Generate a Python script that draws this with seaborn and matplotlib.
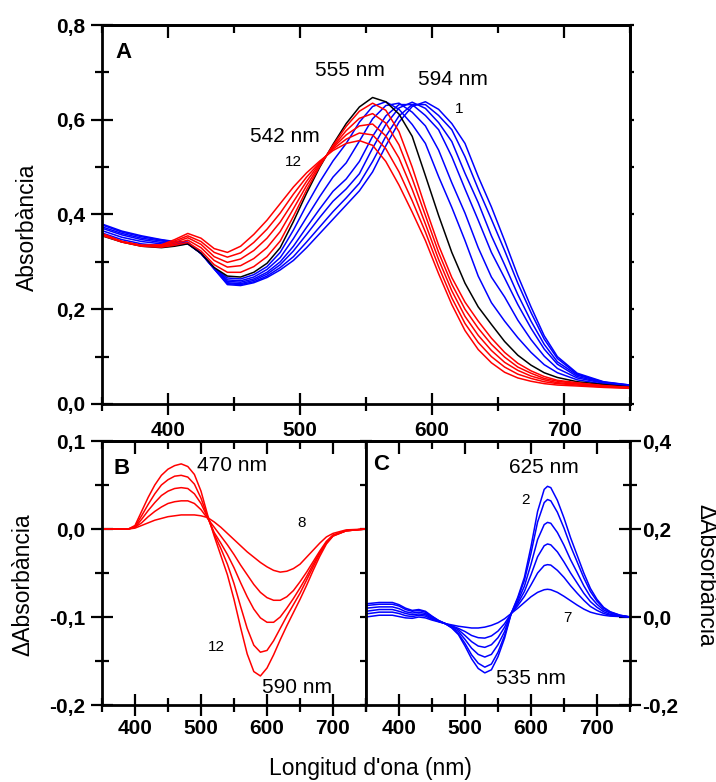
import matplotlib
matplotlib.use("Agg")
import matplotlib.pyplot as plt
import pandas as pd
import seaborn as sns
from matplotlib.ticker import FuncFormatter, MultipleLocator, NullFormatter

# ---- panel A: absorbance spectra 1..12 ----
WL_A = [350, 365, 380, 395, 405, 415, 425, 435, 445, 455, 465, 475, 485, 495,
        505, 515, 525, 535, 545, 555, 565, 575, 585, 595, 605, 615, 625, 635,
        645, 655, 665, 675, 685, 695, 710, 730, 750]
A1 = [.380, .365, .355, .347, .343, .342, .318, .285, .252, .250, .256, .267, .283, .303,
      .330, .360, .390, .420, .450, .490, .545, .595, .628, .638, .622, .592, .550, .480,
      .416, .345, .271, .205, .144, .100, .065, .047, .040]
A2 = [.378, .363, .353, .346, .342, .340, .318, .285, .254, .252, .258, .270, .288, .311,
      .342, .374, .406, .435, .466, .512, .565, .608, .632, .632, .609, .579, .522, .454,
      .390, .324, .255, .193, .137, .096, .063, .046, .040]
A3 = [.374, .360, .350, .344, .341, .340, .318, .286, .256, .254, .261, .274, .294, .323,
      .358, .394, .428, .454, .486, .540, .590, .625, .637, .624, .594, .554, .487, .425,
      .355, .294, .231, .175, .126, .089, .061, .046, .039]
A4 = [.371, .357, .347, .341, .339, .339, .318, .286, .259, .257, .264, .278, .300, .333,
      .373, .412, .449, .475, .512, .565, .608, .632, .632, .609, .579, .522, .454, .388,
      .320, .266, .210, .160, .116, .084, .058, .045, .039]
A5 = [.366, .352, .343, .338, .337, .339, .318, .287, .262, .260, .268, .284, .309, .349,
      .394, .438, .479, .509, .555, .602, .630, .635, .616, .587, .536, .467, .403, .330,
      .268, .226, .177, .136, .101, .075, .055, .044, .038]
A6 = [.361, .347, .338, .334, .335, .338, .318, .287, .266, .264, .273, .290, .320, .367,
      .420, .469, .513, .550, .595, .628, .638, .622, .590, .550, .480, .415, .345, .270,
      .214, .175, .140, .109, .083, .066, .051, .042, .037]
A7 = [.355, .342, .333, .330, .333, .338, .318, .288, .270, .268, .278, .297, .330, .385,
      .445, .500, .548, .592, .627, .647, .638, .612, .565, .482, .398, .320, .255, .205,
      .168, .132, .103, .082, .066, .056, .047, .041, .036]
A8 = [.356, .342, .333, .331, .335, .341, .323, .294, .278, .278, .290, .311, .344, .396,
      .452, .502, .546, .586, .618, .635, .620, .575, .500, .415, .335, .267, .215, .175,
      .139, .109, .086, .070, .058, .050, .045, .039, .035]
A9 = [.357, .342, .334, .332, .338, .346, .330, .303, .289, .292, .307, .330, .364, .412,
      .461, .505, .543, .577, .603, .613, .593, .547, .476, .398, .320, .253, .200, .160,
      .126, .099, .078, .065, .054, .048, .043, .038, .035]
A10 = [.358, .343, .334, .334, .341, .351, .337, .311, .299, .306, .324, .350, .384, .427,
       .470, .508, .541, .568, .587, .591, .566, .519, .453, .380, .305, .239, .185, .145,
       .113, .088, .071, .059, .051, .045, .042, .037, .034]
A11 = [.359, .343, .335, .335, .344, .355, .343, .320, .310, .319, .341, .369, .403, .443,
       .479, .510, .538, .559, .572, .568, .539, .490, .429, .363, .290, .224, .170, .130,
       .100, .078, .063, .054, .047, .043, .040, .036, .034]
A12 = [.360, .343, .335, .336, .347, .360, .350, .328, .320, .333, .358, .388, .423, .458,
       .488, .513, .535, .550, .556, .546, .512, .462, .405, .345, .275, .210, .155, .115,
       .087, .067, .055, .048, .043, .040, .038, .035, .033]

# ---- panel B: difference spectra 8..12 ----
WL_B = [350, 370, 390, 400, 410, 420, 430, 440, 450, 460, 470, 480, 490, 500, 510, 520,
        530, 540, 550, 560, 570, 580, 590, 600, 610, 620, 630, 640, 650, 660, 670, 680,
        690, 700, 720, 750]
B8 = [0, 0, 0, .001, .004, .007, .010, .012, .014, .015, .016, .016, .016, .015, .013, .008,
      .002, -.005, -.012, -.019, -.026, -.032, -.038, -.043, -.047, -.049, -.048, -.045,
      -.040, -.032, -.024, -.016, -.009, -.005, -.001, 0]
B9 = [0, 0, 0, .002, .007, .014, .020, .025, .029, .031, .032, .032, .029, .022, .012, .002,
      -.008, -.018, -.029, -.041, -.052, -.063, -.072, -.078, -.081, -.081, -.077, -.070,
      -.060, -.049, -.037, -.025, -.014, -.007, -.002, 0]
B10 = [0, 0, 0, .002, .011, .021, .030, .038, .043, .046, .047, .046, .040, .029, .013, -.004,
       -.016, -.029, -.044, -.061, -.077, -.091, -.101, -.106, -.106, -.100, -.090, -.079,
       -.067, -.054, -.040, -.027, -.015, -.007, -.002, 0]
B11 = [0, 0, 0, .003, .015, .028, .040, .050, .056, .060, .061, .059, .051, .035, .014, -.006,
       -.022, -.040, -.062, -.088, -.113, -.132, -.140, -.138, -.127, -.113, -.099, -.086,
       -.073, -.058, -.043, -.028, -.016, -.008, -.002, 0]
B12 = [0, 0, 0, .004, .020, .036, .050, .061, .068, .072, .074, .071, .062, .043, .016, -.008,
       -.030, -.052, -.080, -.112, -.142, -.162, -.167, -.158, -.143, -.126, -.110, -.095,
       -.080, -.064, -.047, -.031, -.017, -.008, -.002, 0]

# ---- panel C: difference spectra 2..7 ----
WL_C = [350, 370, 390, 400, 410, 420, 430, 440, 450, 460, 470, 480, 490, 500, 510, 520,
        530, 540, 550, 560, 570, 580, 590, 600, 610, 620, 625, 630, 640, 650, 660, 670,
        680, 690, 700, 710, 720, 735, 750]
C2 = [.030, .033, .033, .028, .020, .015, .017, .013, .002, -.008, -.015, -.025, -.040, -.066,
      -.095, -.117, -.127, -.120, -.090, -.048, .008, .045, .090, .160, .240, .290, .297, .294,
      .265, .225, .180, .140, .100, .065, .040, .022, .012, .004, 0]
C3 = [.026, .029, .029, .025, .017, .013, .015, .011, .001, -.008, -.015, -.024, -.038, -.060,
      -.086, -.105, -.114, -.107, -.080, -.042, .008, .042, .083, .145, .216, .260, .267, .264,
      .238, .202, .161, .125, .089, .058, .036, .020, .011, .004, 0]
C4 = [.020, .023, .023, .019, .012, .009, .011, .008, -.001, -.009, -.015, -.023, -.033, -.051,
      -.071, -.085, -.091, -.085, -.063, -.033, .008, .036, .070, .120, .176, .210, .215, .213,
      .192, .163, .130, .101, .071, .046, .029, .016, .009, .003, 0]
C5 = [.013, .017, .017, .013, .008, .005, .007, .005, -.003, -.010, -.015, -.021, -.029, -.042,
      -.056, -.066, -.069, -.063, -.047, -.023, .008, .031, .058, .096, .137, .162, .166, .164,
      .148, .125, .100, .077, .054, .035, .022, .012, .006, .002, 0]
C6 = [.007, .011, .011, .008, .003, .001, .004, .002, -.005, -.010, -.015, -.020, -.026, -.033,
      -.042, -.047, -.048, -.043, -.032, -.015, .008, .026, .047, .073, .100, .117, .119, .118,
      .106, .090, .071, .054, .038, .024, .015, .008, .004, .002, 0]
C7 = [0, .004, .004, .001, -.002, -.003, 0, -.002, -.007, -.011, -.015, -.018, -.021, -.023,
      -.025, -.025, -.023, -.019, -.013, -.004, .008, .020, .033, .046, .056, .062, .063, .062,
      .056, .047, .037, .027, .018, .011, .007, .004, .002, .001, 0]

BLUE, RED, BLACK = "#0000ff", "#ff0000", "#000000"


def long_frame(wl, series):
    rows = []
    for name, vals in series.items():
        rows += [{"wl": w, "val": v, "curve": name} for w, v in zip(wl, vals)]
    return pd.DataFrame(rows)


def comma(v, pos):
    s = f"{v:.1f}".replace(".", ",")
    return "0,0" if s == "-0,0" else s


def base_ticks(ax, ymaj, ymin):
    ax.set_xlim(350, 750)
    ax.xaxis.set_major_locator(MultipleLocator(100))
    ax.xaxis.set_minor_locator(MultipleLocator(50))
    ax.yaxis.set_major_locator(MultipleLocator(ymaj))
    ax.yaxis.set_minor_locator(MultipleLocator(ymin))
    ax.yaxis.set_major_formatter(FuncFormatter(comma))
    ax.tick_params(which="major", direction="inout", length=16, width=1.6, labelsize=15)
    ax.tick_params(which="minor", direction="inout", length=10, width=1.6)
    ax.tick_params(axis="x", pad=2)
    ax.tick_params(axis="y", pad=4)
    top = ax.secondary_xaxis("top")
    top.xaxis.set_major_locator(MultipleLocator(100))
    top.xaxis.set_minor_locator(MultipleLocator(50))
    top.xaxis.set_major_formatter(NullFormatter())
    top.tick_params(which="major", direction="in", length=9, width=1.6)
    top.tick_params(which="minor", direction="in", length=6, width=1.6)
    ax.set_xlabel("")
    ax.set_ylabel("")


sns.set_theme(style="ticks")
plt.rcParams.update({
    "font.family": ["Liberation Sans", "DejaVu Sans"],
    "font.weight": "bold",
    "axes.linewidth": 2.0,
    "axes.edgecolor": "black",
    "text.color": "black",
    "axes.labelcolor": "black",
    "xtick.color": "black",
    "ytick.color": "black",
})

fig = plt.figure(figsize=(7.16, 7.82), dpi=100)
axA = fig.add_axes([102 / 716, 1 - 404 / 782, 528 / 716, 379 / 782])
axB = fig.add_axes([102 / 716, 1 - 705 / 782, 264 / 716, 264 / 782])
axC = fig.add_axes([366 / 716, 1 - 705 / 782, 264 / 716, 264 / 782])

# panel A
seriesA = {"1": A1, "2": A2, "3": A3, "4": A4, "5": A5, "6": A6, "7": A7,
           "8": A8, "9": A9, "10": A10, "11": A11, "12": A12}
palA = {k: BLUE for k in "123456"}
palA["7"] = BLACK
palA.update({k: RED for k in ["8", "9", "10", "11", "12"]})
sns.lineplot(data=long_frame(WL_A, seriesA), x="wl", y="val", hue="curve",
             hue_order=list(seriesA), palette=palA, estimator=None, sort=False,
             linewidth=1.1, legend=False, ax=axA)
base_ticks(axA, 0.2, 0.1)
axA.set_ylim(0, 0.8)
axA.tick_params(axis="x", pad=4)
right = axA.secondary_yaxis("right")
right.yaxis.set_major_locator(MultipleLocator(0.1))
right.yaxis.set_major_formatter(NullFormatter())
right.tick_params(direction="out", length=3, width=1.6)

norm = dict(fontweight="normal")
axA.text(360, 0.743, "A", fontsize=16, fontweight="bold", va="center")
axA.text(538, 0.703, "555 nm", fontsize=15, ha="center", va="center", **norm)
axA.text(616, 0.686, "594 nm", fontsize=15, ha="center", va="center", **norm)
axA.text(620.5, 0.623, "1", fontsize=11, ha="center", va="center", **norm)
axA.text(488.6, 0.564, "542 nm", fontsize=15, ha="center", va="center", **norm)
axA.text(495, 0.511, "12", fontsize=11, ha="center", va="center", **norm)

# panel B
seriesB = {"8": B8, "9": B9, "10": B10, "11": B11, "12": B12}
sns.lineplot(data=long_frame(WL_B, seriesB), x="wl", y="val", hue="curve",
             hue_order=list(seriesB), palette={k: RED for k in seriesB},
             estimator=None, sort=False, linewidth=1.1, legend=False, ax=axB)
base_ticks(axB, 0.1, 0.05)
axB.set_ylim(-0.2, 0.1)
rB = axB.secondary_yaxis("right")
rB.yaxis.set_major_locator(MultipleLocator(0.05))
rB.yaxis.set_major_formatter(NullFormatter())
rB.tick_params(direction="inout", length=8, width=1.6)
axB.text(367, 0.069, "B", fontsize=16, fontweight="bold", va="center")
axB.text(547, 0.072, "470 nm", fontsize=15, ha="center", va="center", **norm)
axB.text(653, 0.007, "8", fontsize=11, ha="center", va="center", **norm)
axB.text(523, -0.134, "12", fontsize=11, ha="center", va="center", **norm)
axB.text(645, -0.18, "590 nm", fontsize=15, ha="center", va="center", **norm)

# panel C
seriesC = {"2": C2, "3": C3, "4": C4, "5": C5, "6": C6, "7": C7}
sns.lineplot(data=long_frame(WL_C, seriesC), x="wl", y="val", hue="curve",
             hue_order=list(seriesC), palette={k: BLUE for k in seriesC},
             estimator=None, sort=False, linewidth=1.1, legend=False, ax=axC)
base_ticks(axC, 0.2, 0.1)
axC.set_ylim(-0.2, 0.4)
axC.tick_params(axis="y", which="both", left=False, labelleft=False,
                right=True, labelright=True, pad=1)
axC.text(361, 0.347, "C", fontsize=16, fontweight="bold", va="center")
axC.text(620, 0.34, "625 nm", fontsize=15, ha="center", va="center", **norm)
axC.text(591, 0.267, "2", fontsize=11, ha="center", va="center", **norm)
axC.text(654.5, -0.002, "7", fontsize=11, ha="center", va="center", **norm)
axC.text(600, -0.139, "535 nm", fontsize=15, ha="center", va="center", **norm)

# axis titles
fig.text(27 / 716, 1 - 227 / 782, "Absorbància", rotation=90, fontsize=16.5,
         ha="center", va="center", **norm)
fig.text(23 / 716, 1 - 585 / 782, "ΔAbsorbància", rotation=90, fontsize=16.5,
         ha="center", va="center", **norm)
fig.text(706 / 716, 1 - 575 / 782, "ΔAbsorbància", rotation=270, fontsize=16.5,
         ha="center", va="center", **norm)
fig.text(370 / 716, 1 - 768 / 782, "Longitud d'ona (nm)", fontsize=16.5,
         ha="center", va="center", **norm)

fig.savefig("out.png", dpi=100)
